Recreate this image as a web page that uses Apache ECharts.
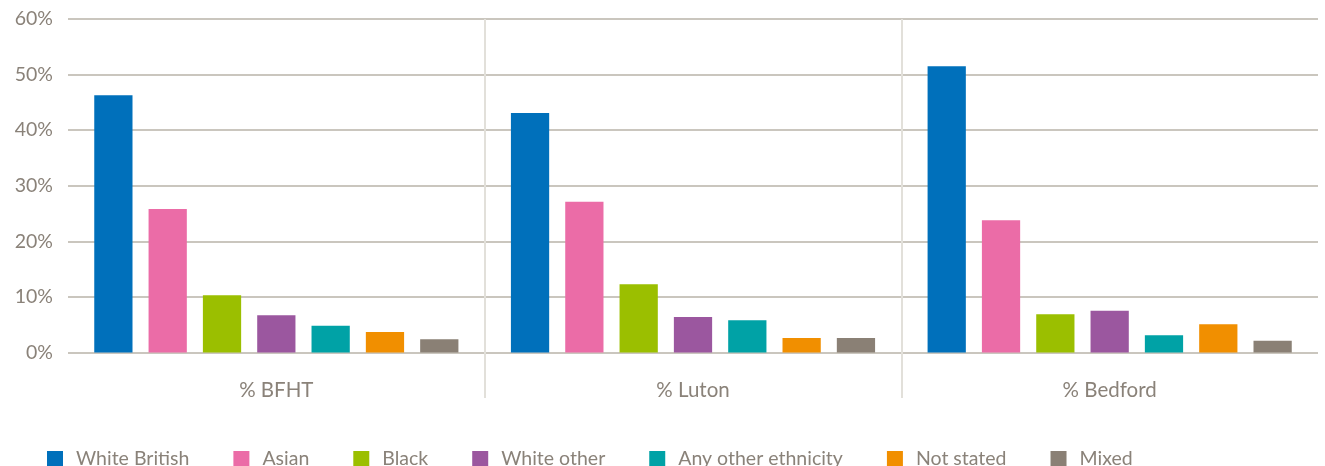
<!DOCTYPE html>
<html>
<head>
<meta charset="utf-8">
<script src="https://cdn.jsdelivr.net/npm/echarts@6/dist/echarts.min.js"></script>
<style>
html,body{margin:0;padding:0;background:#fff;}
#chart{width:1325px;height:466px;}
</style>
</head>
<body>
<div id="chart"></div>
<script>
const categories = ['% BFHT', '% Luton', '% Bedford'];
const seriesNames = ['White British', 'Asian', 'Black', 'White other', 'Any other ethnicity', 'Not stated', 'Mixed'];
const whiteBritish = [46.3, 43.1, 51.5];
const asian = [25.8, 27.1, 23.8];
const black = [10.3, 12.3, 6.9];
const whiteOther = [6.7, 6.4, 7.5];
const anyOther = [4.8, 5.8, 3.1];
const notStated = [3.7, 2.6, 5.1];
const mixed = [2.4, 2.6, 2.1];
const yTicks = [0, 10, 20, 30, 40, 50, 60];

const colors = ['#0070bb', '#eb6ca7', '#9bbf00', '#9b579f', '#00a2a6', '#f18f00', '#8a8075'];
const values = [whiteBritish, asian, black, whiteOther, anyOther, notStated, mixed];
const textColor = '#8a8279';
const fontFamily = 'Lato, "Open Sans", sans-serif';

const chart = echarts.init(document.getElementById('chart'), null, {renderer: 'canvas'});
chart.setOption({
  animation: false,
  textStyle: {fontFamily: fontFamily, color: textColor},
  grid: [
    {left: 68, right: 7, top: 19, bottom: 113.5},
    {left: 68, right: 7, top: 19, bottom: 68}
  ],
  legend: {
    left: 42, top: 444,
    itemWidth: 24, itemHeight: 16, itemGap: 44,
    icon: 'path://M0,0L16,0L16,16L0,16Z M24,16L24,16',
    textStyle: {fontSize: 19.5, color: textColor, fontFamily: fontFamily},
    data: seriesNames
  },
  xAxis: [
    {
      type: 'category', gridIndex: 0, data: categories,
      axisLine: {show: false}, axisTick: {show: false}, splitLine: {show: false},
      axisLabel: {fontSize: 20.5, color: textColor, margin: 27, fontFamily: fontFamily}
    },
    {
      type: 'value', gridIndex: 1, min: 0, max: categories.length, interval: 1,
      axisLine: {show: false}, axisTick: {show: false}, axisLabel: {show: false},
      splitLine: {show: true, showMinLine: false, showMaxLine: false, lineStyle: {color: '#e2e0da', width: 2}}
    }
  ],
  yAxis: [
    {
      type: 'value', gridIndex: 0, min: yTicks[0], max: yTicks[yTicks.length - 1], interval: 10,
      axisLine: {show: false}, axisTick: {show: false},
      axisLabel: {formatter: '{value}%', fontSize: 19.5, color: textColor, margin: 15, fontFamily: fontFamily},
      splitLine: {show: true, lineStyle: {color: '#cac6be', width: 2}}
    },
    {
      type: 'value', gridIndex: 1, min: 0, max: 1, show: false
    }
  ],
  series: seriesNames.map((name, i) => ({
    name: name,
    type: 'bar',
    xAxisIndex: 0, yAxisIndex: 0,
    data: values[i],
    barGap: '42%',
    barCategoryGap: '12.6%',
    itemStyle: {color: colors[i]},
    z: 3
  }))
});
</script>
</body>
</html>
